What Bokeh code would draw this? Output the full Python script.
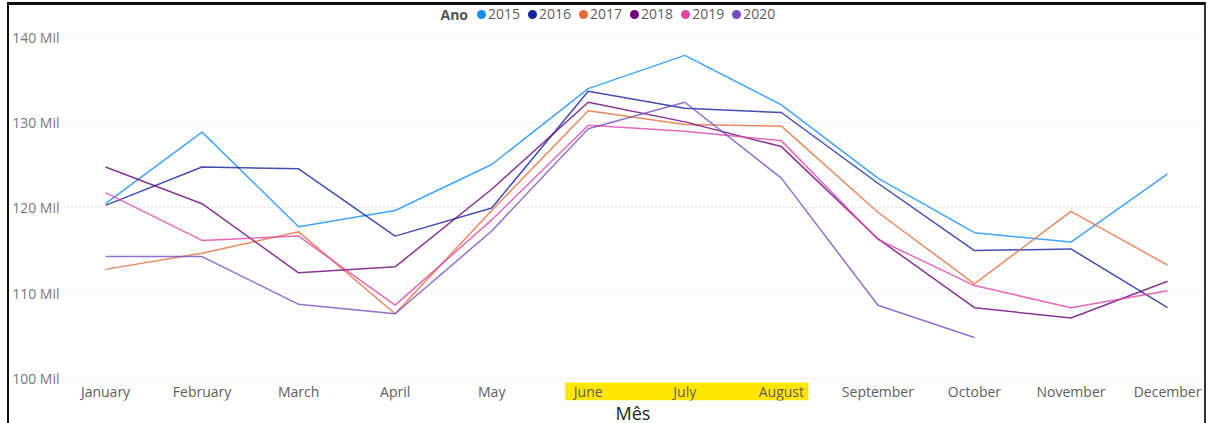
from bokeh.plotting import figure
from bokeh.models import (FixedTicker, PrintfTickFormatter, Legend, LegendItem,
                          Label, Range1d)
from bokeh.core.properties import value
from bokeh.embed import file_html
from bokeh.resources import INLINE

# Monthly totals per year, in thousands ("Mil")
months = ["January", "February", "March", "April", "May", "June", "July",
          "August", "September", "October", "November", "December"]
nan = float("nan")
v2015 = [120.5, 128.9, 117.8, 119.7, 125.1, 134.0, 137.9, 132.1, 123.5, 117.1, 116.0, 124.0]
v2016 = [120.3, 124.8, 124.6, 116.7, 120.0, 133.7, 131.7, 131.2, 122.9, 115.0, 115.2, 108.3]
v2017 = [112.8, 114.7, 117.2, 107.6, 119.7, 131.4, 129.8, 129.6, 119.5, 111.1, 119.6, 113.3]
v2018 = [124.8, 120.5, 112.4, 113.1, 122.2, 132.4, 130.1, 127.2, 116.4, 108.3, 107.1, 111.4]
v2019 = [121.8, 116.2, 116.7, 108.6, 118.6, 129.7, 129.0, 127.9, 116.3, 110.9, 108.3, 110.3]
v2020 = [114.3, 114.3, 108.7, 107.6, 117.3, 129.3, 132.4, 123.5, 108.6, 104.8, nan, nan]

years = ["2015", "2016", "2017", "2018", "2019", "2020"]
series = [v2015, v2016, v2017, v2018, v2019, v2020]
colors = ["#118DFF", "#12239E", "#E66C37", "#6B007B", "#E044A7", "#744EC2"]
yticks = [100, 110, 120, 130, 140]
highlight = ["June", "July", "August"]

FONT = "Open Sans"
xs = list(range(len(months)))

# the frame reaches from the legend row down to the month labels
Y0, Y1 = 97.419, 143.75
p = figure(frame_width=1139, frame_height=395, output_backend="svg",
           toolbar_location=None,
           x_range=Range1d(-0.435, 11.362), y_range=Range1d(Y0, Y1),
           min_border_left=54, min_border_right=2, min_border_top=0,
           min_border_bottom=0,
           styles={"margin-left": "7px", "margin-top": "2px",
                   "box-sizing": "content-box",
                   "border-left": "2px solid #111", "border-top": "3px solid #111",
                   "border-right": "2px solid #333"})
p.outline_line_color = None
p.background_fill_color = "white"
p.border_fill_color = "white"

# month labels row, with a yellow band behind the summer months
label_y = 98.475
i0 = months.index(highlight[0])
i1 = months.index(highlight[-1])
p.quad(left=[i0 - 0.238], right=[i1 + 0.28], top=[99.53], bottom=[Y0],
       fill_color="#FFE600", line_color=None)
p.text(x=xs, y=[label_y] * len(xs), text=months, text_font=value(FONT),
       text_font_size="14px", text_align="center", text_baseline="middle",
       text_color="#605E5C")

items = []
for name, vals, col in zip(years, series, colors):
    p.line(xs, vals, line_color=col, line_width=1.5, line_alpha=0.8)
    # legend dot: marker size follows the glyph box, the outline fattens it
    dot = p.scatter([nan], [nan], marker="circle", size=9, fill_color=col,
                    line_color=col, line_width=3.4)
    items.append(LegendItem(label=name, renderers=[dot]))

# x axis carries only its title
p.xaxis.ticker = FixedTicker(ticks=[])
p.xaxis.axis_line_color = None
p.xaxis.major_tick_line_color = None
p.xaxis.minor_tick_line_color = None
p.xaxis.major_tick_out = 0
p.xaxis.major_tick_in = 0
p.xaxis.minor_tick_out = 0
p.xaxis.major_label_standoff = 0
p.xaxis.axis_label = "Mês"
p.xaxis.axis_label_text_font = FONT
p.xaxis.axis_label_text_font_style = "normal"
p.xaxis.axis_label_text_font_size = "18px"
p.xaxis.axis_label_text_color = "#252423"
p.xaxis.axis_label_standoff = 0

p.yaxis.ticker = FixedTicker(ticks=yticks)
p.yaxis.formatter = PrintfTickFormatter(format="%d Mil")
p.yaxis.axis_line_color = None
p.yaxis.major_tick_line_color = None
p.yaxis.minor_tick_line_color = None
p.yaxis.major_tick_out = 0
p.yaxis.major_tick_in = 0
p.yaxis.minor_tick_out = 0
p.yaxis.major_label_text_font = FONT
p.yaxis.major_label_text_font_size = "14px"
p.yaxis.major_label_text_color = "#777777"
p.yaxis.major_label_standoff = 4

p.xgrid.grid_line_color = None
p.ygrid.grid_line_color = "#C8C8C8"
p.ygrid.grid_line_dash = "1 3"
p.ygrid.grid_line_width = 1

legend = Legend(items=items, orientation="horizontal", location=(411, 377),
                glyph_width=14, glyph_height=14, label_standoff=0, spacing=5,
                padding=0, margin=0, border_line_color=None,
                background_fill_alpha=0, label_text_font=FONT,
                label_text_font_size="14px", label_text_color="#605E5C")
p.add_layout(legend)

p.add_layout(Label(x=377, y=386, x_units="screen", y_units="screen", text="Ano",
                   text_font=FONT, text_font_style="bold", text_font_size="14px",
                   text_color="#555555", text_baseline="middle"))

open("out.html", "w").write(file_html(p, INLINE))
